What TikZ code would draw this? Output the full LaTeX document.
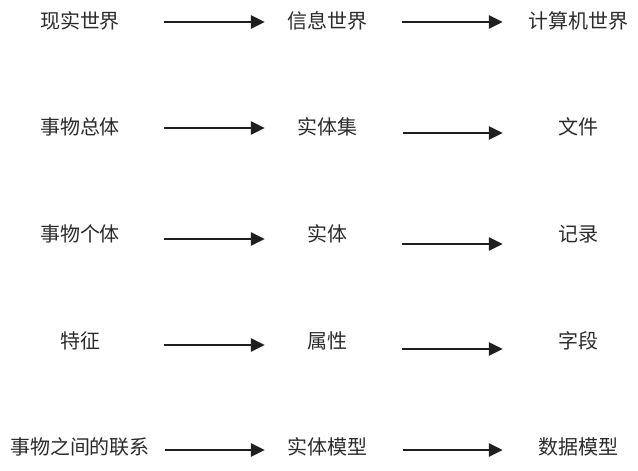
\documentclass[tikz,border=0pt]{standalone}
\usepackage{fontspec}
\newfontfamily\cjk{Noto Sans CJK SC}
\usepackage{tikz}
\usetikzlibrary{arrows.meta, positioning}
\definecolor{inkgray}{HTML}{2B2B2B}
\tikzset{
  every node/.style={font=\cjk\fontsize{20}{23}\selectfont, text=inkgray, inner sep=0pt},
  realcol/.style={minimum width=168pt},
  infocol/.style={minimum width=124pt},
  compcol/.style={minimum width=150pt},
  flow/.style={line width=2.9pt, draw=black!88, -{Triangle[length=14pt, width=13pt]}},
}

\begin{document}
\begin{tikzpicture}[x=1pt, y=-1pt]
    \useasboundingbox (0, 0) rectangle (638, 471);
    % 现实世界 / 信息世界 / 计算机世界
    \node[realcol] (real1) at (80, 21) {现实世界};
    \node[infocol] (info1) at (327, 21) {信息世界};
    \node[compcol] (comp1) at (578, 21) {计算机世界};
    \node[realcol] (real2) at (80, 127) {事物总体};
    \node[infocol] (info2) at (327, 127) {实体集};
    \node[compcol] (comp2) at (578, 127) {文件};
    \node[realcol] (real3) at (80, 234) {事物个体};
    \node[infocol] (info3) at (327, 234) {实体};
    \node[compcol] (comp3) at (578, 234) {记录};
    \node[realcol] (real4) at (80, 341) {特征};
    \node[infocol] (info4) at (327, 341) {属性};
    \node[compcol] (comp4) at (578, 341) {字段};
    \node[realcol] (real5) at (80, 447) {事物之间的联系};
    \node[infocol] (info5) at (327, 447) {实体模型};
    \node[compcol] (comp5) at (578, 447) {数据模型};

    \draw[flow] ([yshift=-1pt]real1.east) -- ([yshift=-1pt]info1.west);
    \draw[flow, shorten <=13pt] ([yshift=-1pt]info1.east) -- ([yshift=-1pt]comp1.west);
    \draw[flow] ([yshift=-1pt]real2.east) -- ([yshift=-1pt]info2.west);
    \draw[flow, shorten <=14pt] ([yshift=-6pt]info2.east) -- ([yshift=-6pt]comp2.west);
    \draw[flow] ([yshift=-5pt]real3.east) -- ([yshift=-5pt]info3.west);
    \draw[flow, shorten <=13pt] ([yshift=-10pt]info3.east) -- ([yshift=-10pt]comp3.west);
    \draw[flow] ([yshift=-4pt]real4.east) -- ([yshift=-4pt]info4.west);
    \draw[flow, shorten <=13pt] ([yshift=-8pt]info4.east) -- ([yshift=-8pt]comp4.west);
    \draw[flow, shorten <=1pt] ([yshift=-3pt]real5.east) -- ([yshift=-3pt]info5.west);
    \draw[flow, shorten <=14pt] ([yshift=-3pt]info5.east) -- ([yshift=-3pt]comp5.west);
\end{tikzpicture}
\end{document}
